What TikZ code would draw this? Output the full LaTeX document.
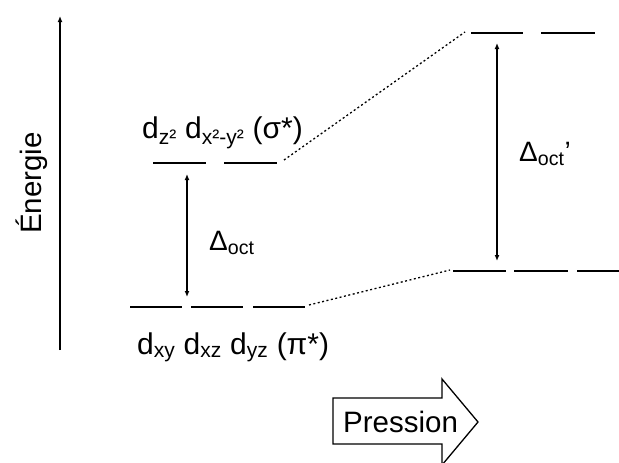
\documentclass[tikz,border=0pt]{standalone}
\usepackage{fontspec}
\setmainfont{Liberation Sans}
\usetikzlibrary{arrows.meta}
\begin{document}
\begin{tikzpicture}[x=1pt,y=-1pt,
  level/.style={line width=1.6pt},
  dots/.style={line width=1.3pt, dash pattern=on 2pt off 2.5pt},
  gap/.style={line width=1.5pt,{Latex[length=6pt,width=5pt]}-{Latex[length=6pt,width=5pt]}},
  lbl/.style={inner sep=0pt, font=\fontsize{30}{34}\selectfont},
  dlt/.style={inner sep=0pt, font=\fontsize{28}{32}\selectfont},
  bigtxt/.style={inner sep=0pt, font=\fontsize{29.5}{34}\selectfont}]
\useasboundingbox (0,0) rectangle (619,463);
% energy axis
\coordinate (eb) at (60,350);
\coordinate (et) at (60,16);
\draw[line width=1.5pt,-{Latex[length=6pt,width=5pt]}] (eb) -- (et);
\node[bigtxt, rotate=90] (energie) at (32,183) {Énergie};
% left upper levels
\coordinate (lu1a) at (153,163); \coordinate (lu1b) at (206,163);
\coordinate (lu2a) at (224,163); \coordinate (lu2b) at (277,163);
\draw[level] (lu1a) -- (lu1b);
\draw[level] (lu2a) -- (lu2b);
% left lower levels
\coordinate (ll1a) at (130,307); \coordinate (ll1b) at (182,307);
\coordinate (ll2a) at (191,307); \coordinate (ll2b) at (243,307);
\coordinate (ll3a) at (253,307); \coordinate (ll3b) at (305,307);
\draw[level] (ll1a) -- (ll1b);
\draw[level] (ll2a) -- (ll2b);
\draw[level] (ll3a) -- (ll3b);
% right upper levels
\coordinate (ru1a) at (471,33); \coordinate (ru1b) at (523,33);
\coordinate (ru2a) at (541,33); \coordinate (ru2b) at (595,33);
\draw[level] (ru1a) -- (ru1b);
\draw[level] (ru2a) -- (ru2b);
% right lower levels
\coordinate (rl1a) at (453,271); \coordinate (rl1b) at (506,271);
\coordinate (rl2a) at (514,271); \coordinate (rl2b) at (568,271);
\coordinate (rl3a) at (577,271); \coordinate (rl3b) at (619,271);
\draw[level] (rl1a) -- (rl1b);
\draw[level] (rl2a) -- (rl2b);
\draw[level] (rl3a) -- (rl3b);
% dotted correlation lines
\coordinate (du1) at (284,160); \coordinate (du2) at (465,32);
\coordinate (dl1) at (309,305); \coordinate (dl2) at (450,270);
\draw[dots] (du1) -- (du2);
\draw[dots] (dl1) -- (dl2);
% splittings
\coordinate (ga1) at (187,174); \coordinate (ga2) at (187,297);
\draw[gap] (ga1) -- (ga2);
\coordinate (gb1) at (497,43); \coordinate (gb2) at (497,261);
\draw[gap] (gb1) -- (gb2);
\node[dlt, anchor=base west] (doct) at (209,250) {Δ\textsubscript{oct}};
\node[dlt, anchor=base west] (doctp) at (519,161) {Δ\textsubscript{oct}’};
% orbital labels
\node[lbl, anchor=base west] (sigma) at (142,138) {d\textsubscript{z²} d\textsubscript{x²-y²} (σ*)};
\node[lbl, anchor=base west] (pi) at (137,354) {d\textsubscript{xy} d\textsubscript{xz} d\textsubscript{yz} (π*)};
% pressure arrow
\coordinate (p1) at (333,398); \coordinate (p2) at (442,398);
\coordinate (p3) at (442,379); \coordinate (p4) at (478,422);
\coordinate (p5) at (442,465); \coordinate (p6) at (442,444);
\coordinate (p7) at (333,444);
\draw[line width=1.3pt, line join=miter] (p1) -- (p2) -- (p3) -- (p4) -- (p5) -- (p6) -- (p7) -- cycle;
\node[bigtxt, anchor=base west] (press) at (343,432) {Pression};
\end{tikzpicture}
\end{document}
